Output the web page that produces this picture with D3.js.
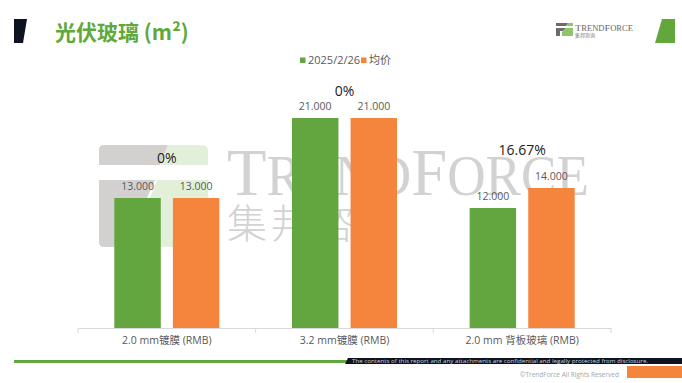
<!DOCTYPE html>
<html><head><meta charset="utf-8">
<script src="https://cdn.jsdelivr.net/npm/d3@7"></script>
<style>
html,body{margin:0;padding:0;background:#fff;}
svg{display:block;}
text{font-family:"Open Sans","Noto Sans CJK SC",sans-serif;}
</style></head>
<body>
<svg id="c" width="682" height="383"></svg>
<script>
// ---- data ----
const title = "光伏玻璃 (m²)";
const categories = ["2.0 mm镀膜 (RMB)", "3.2 mm镀膜 (RMB)", "2.0 mm 背板玻璃 (RMB)"];
const seriesNames = ["2025/2/26", "均价"];
const values20250226 = [13, 21, 12];
const valuesAvg = [13, 21, 14];
const changeLabels = ["0%", "0%", "16.67%"];

// ---- layout ----
const colors = ["#63a53e", "#f5843d"];
const svg = d3.select("#c");
const W = 682, H = 383;
const x = d3.scaleBand().domain(categories).range([78, 611]).paddingInner(0).paddingOuter(0);
const xs = d3.scaleBand().domain(seriesNames).range([0, x.bandwidth()]).paddingInner(0.207).paddingOuter(0.62);
const y = d3.scaleLinear().domain([0, 24]).range([328, 88]);
const seriesVals = [values20250226, valuesAvg];

// ---- watermark ----
const wm = svg.append("g");
wm.append("path").attr("d","M104,145 L168,145 L160,165 L99,165 L99,150 Q99,145 104,145 Z").attr("fill","#d3d1d0");
wm.append("path").attr("d","M168,145 L202,145 Q208,145 208,151 L208,165 L160,165 Z").attr("fill","#e2f0d9");
wm.append("path").attr("d","M99,180 L155,180 L147,198 L130,198 L130,247 L104,247 Q99,247 99,242 Z").attr("fill","#d3d1d0");
wm.append("path").attr("d","M157,180 L208,180 L208,247 L150,247 L150,198 Z").attr("fill","#e2f0d9");
const wt = wm.append("text").attr("x",227).attr("y",195)
  .attr("fill","#d2d2d2").style("font-family","'Liberation Serif','DejaVu Serif',serif")
  .attr("textLength",362).attr("lengthAdjust","spacingAndGlyphs");
[["T",68],["REND",56],["F",68],["ORCE",56]].forEach(([t,s])=>wt.append("tspan").attr("font-size",s).text(t));
const wc = ["集","邦","咨","询"];
wm.selectAll("text.wc").data(wc).join("text").attr("class","wc")
  .attr("x",(d,i)=>227+i*44).attr("y",238).attr("font-size",40).attr("fill","#d2d2d2")
  .style("font-family","'Noto Sans CJK SC',sans-serif").style("font-weight",300).text(d=>d);

// ---- header ----
svg.append("path").attr("d","M14,19 L27,19 L23,43 L14,43 Z").attr("fill","#0d1321");
svg.append("text").attr("x",55).attr("y",40).attr("font-size",21).attr("font-weight","bold")
  .attr("fill","#5fa83a").style("font-family","'Noto Sans CJK SC',sans-serif").text(title);
svg.append("path").attr("d","M662,19 L675,19 L675,43 L655,43 Z").attr("fill","#62a73b");
// small logo
const lg = svg.append("g");
lg.append("path").attr("d","M556,23 L568,23 L566,26 L556,26 Z").attr("fill","#6d6b6a");
lg.append("path").attr("d","M568,23 L573,23 L573,26 L566,26 Z").attr("fill","#8cc56a");
lg.append("path").attr("d","M556,28 L566,28 L563,31 L560,31 L560,36 L556,36 Z").attr("fill","#6d6b6a");
lg.append("path").attr("d","M566,28 L573,28 L573,36 L562,36 L562,32 Z").attr("fill","#8cc56a");
const lt = lg.append("text").attr("x",575).attr("y",30.5).attr("fill","#666")
  .style("font-family","'Liberation Serif',serif").attr("textLength",58).attr("lengthAdjust","spacingAndGlyphs");
[["T",9],["REND",7.5],["F",9],["ORCE",7.5]].forEach(([t,s])=>lt.append("tspan").attr("font-size",s).text(t));
lg.append("text").attr("x",575).attr("y",37).attr("font-size",5).attr("fill","#777")
  .style("font-family","'Noto Sans CJK SC',sans-serif").text("集邦咨询");

// ---- legend ----
const leg = svg.append("g");
const legX = [300, 361];
seriesNames.forEach((s,i)=>{
  leg.append("rect").attr("x",legX[i]).attr("y",57.5).attr("width",5.5).attr("height",5.5).attr("fill",colors[i]);
  leg.append("text").attr("x",legX[i]+8).attr("y",64).attr("font-size",11).attr("fill","#595959").text(s);
});

// ---- axis ----
const xAxis = d3.axisBottom(x).tickSize(0).tickPadding(9);
const ax = svg.append("g").attr("transform","translate(0,328)").call(xAxis);
ax.select(".domain").attr("stroke","#d9d9d9");
ax.selectAll(".tick text").attr("font-size",10.5).attr("fill","#595959")
  .style("font-family","'Open Sans','Noto Sans CJK SC',sans-serif");
const bounds = [x.range()[0]].concat(categories.map(c=>x(c)+x.bandwidth()));
svg.append("g").selectAll("line").data(bounds).join("line")
  .attr("x1",d=>d).attr("x2",d=>d).attr("y1",328).attr("y2",333).attr("stroke","#d9d9d9");

// ---- bars ----
const g = svg.append("g");
categories.forEach((c,ci)=>{
  seriesNames.forEach((s,si)=>{
    const v = seriesVals[si][ci];
    g.append("rect").attr("x",x(c)+xs(s)).attr("y",y(v)).attr("width",xs.bandwidth())
      .attr("height",y(0)-y(v)).attr("fill",colors[si]);
    g.append("text").attr("x",x(c)+xs(s)+xs.bandwidth()/2).attr("y",y(v)-8)
      .attr("text-anchor","middle").attr("font-size",10.5).attr("fill","#595959").text(d3.format(".3f")(v));
  });
});
// change labels
const pctOffset = [35, 22, 33];
categories.forEach((c,ci)=>{
  const m = Math.max(values20250226[ci], valuesAvg[ci]);
  svg.append("text").attr("x",x(c)+x.bandwidth()/2).attr("y",y(m)-pctOffset[ci])
    .attr("text-anchor","middle").attr("font-size",14).attr("fill","#222").text(changeLabels[ci]);
});

// ---- footer ----
svg.append("rect").attr("x",14).attr("y",360).attr("width",334).attr("height",3).attr("fill","#62a73b");
svg.append("path").attr("d","M348,358 L682,358 L682,364 L345,364 Z").attr("fill","#0d1321");
svg.append("text").attr("x",352).attr("y",363).attr("font-size",5.5).attr("fill","#cfd3da")
  .attr("textLength",296).attr("lengthAdjust","spacingAndGlyphs")
  .text("The contents of this report and any attachments are confidential and legally protected from disclosure.");
svg.append("text").attr("x",520).attr("y",377).attr("font-size",7).attr("fill","#a6a6a6")
  .attr("textLength",99).attr("lengthAdjust","spacingAndGlyphs").text("©TrendForce All Rights Reserved");
svg.append("rect").attr("x",627).attr("y",366).attr("width",55).attr("height",12).attr("fill","#f5843d");
</script>
</body></html>
